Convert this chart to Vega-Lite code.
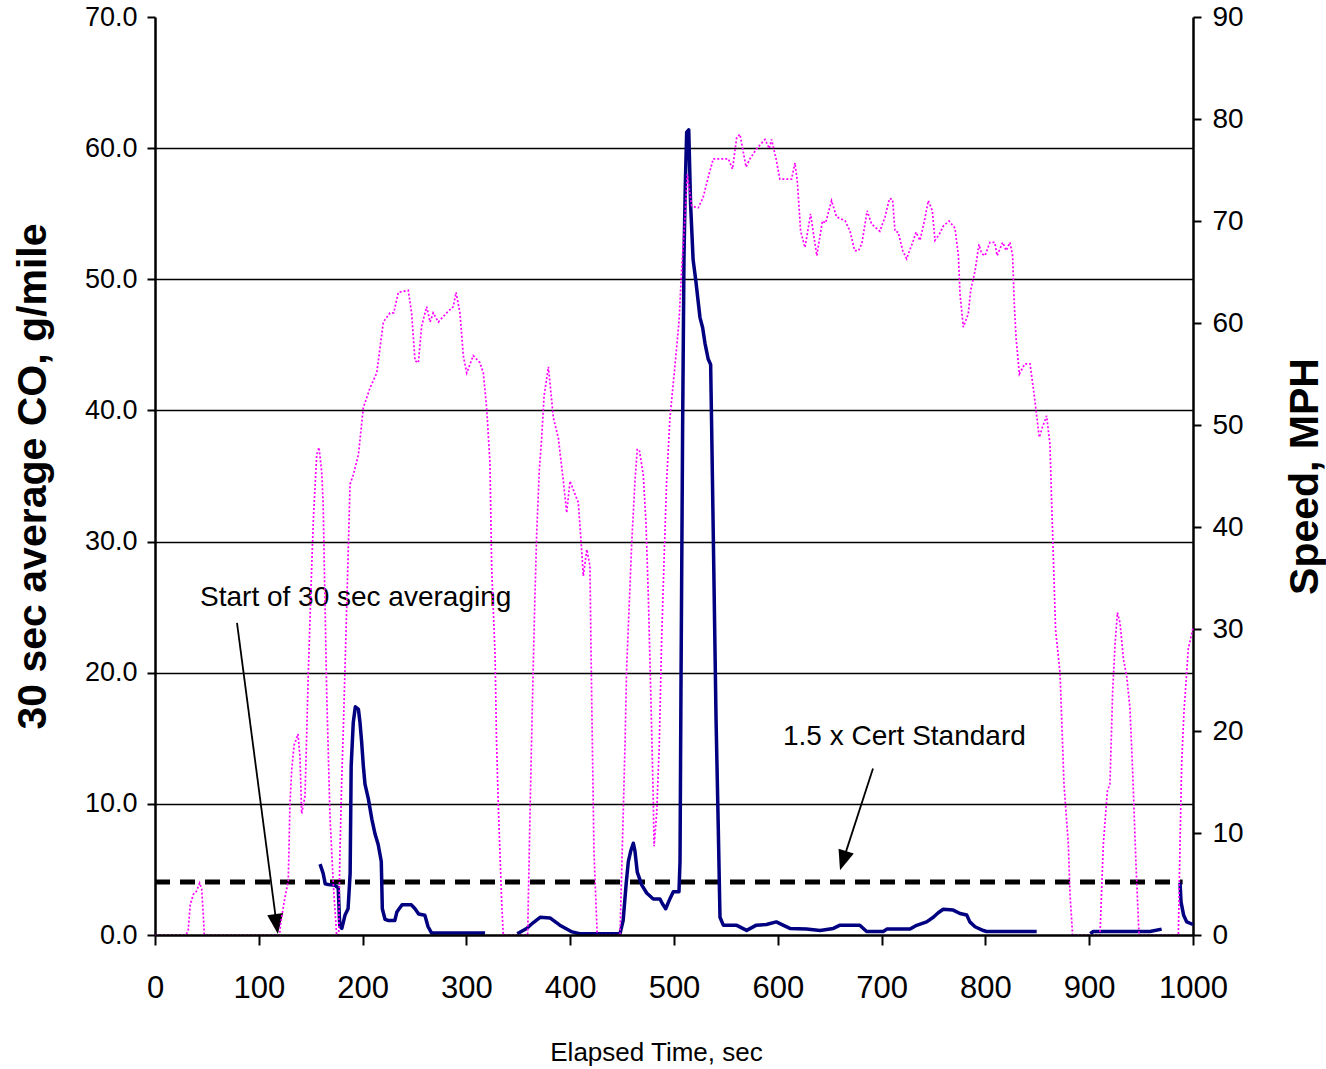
{
  "$schema": "https://vega.github.io/schema/vega-lite/v6.json",
  "width": 1038,
  "height": 918,
  "autosize": {"type": "none"},
  "padding": {"left": 155, "top": 17, "right": 133, "bottom": 134},
  "background": "white",
  "config": {
    "view": {"stroke": null},
    "font": "Liberation Sans",
    "axis": {"labelColor": "black", "titleColor": "black", "domainColor": "black", "tickColor": "black", "labelFont": "Liberation Sans", "titleFont": "Liberation Sans"}
  },
  "datasets": {
    "co": [
      {"seg": 1, "t": 159, "co": 5.4}, {"seg": 1, "t": 162, "co": 4.7}, {"seg": 1, "t": 164, "co": 3.9}, {"seg": 1, "t": 167, "co": 3.85},
      {"seg": 1, "t": 173, "co": 3.8}, {"seg": 1, "t": 176.5, "co": 3.6}, {"seg": 1, "t": 178, "co": 0.7}, {"seg": 1, "t": 180, "co": 0.5},
      {"seg": 1, "t": 183, "co": 1.5}, {"seg": 1, "t": 186, "co": 2.0}, {"seg": 1, "t": 188, "co": 4.7}, {"seg": 1, "t": 189, "co": 12.9},
      {"seg": 1, "t": 191, "co": 16.2}, {"seg": 1, "t": 193, "co": 17.4}, {"seg": 1, "t": 196, "co": 17.2}, {"seg": 1, "t": 197.5, "co": 16.2},
      {"seg": 1, "t": 199, "co": 14.8}, {"seg": 1, "t": 200.7, "co": 12.9}, {"seg": 1, "t": 202.3, "co": 11.5}, {"seg": 1, "t": 205.5, "co": 10.4},
      {"seg": 1, "t": 209, "co": 8.8}, {"seg": 1, "t": 212, "co": 7.7}, {"seg": 1, "t": 215, "co": 6.9}, {"seg": 1, "t": 218, "co": 5.6},
      {"seg": 1, "t": 219, "co": 2.0}, {"seg": 1, "t": 221.6, "co": 1.2}, {"seg": 1, "t": 225, "co": 1.1}, {"seg": 1, "t": 231, "co": 1.1},
      {"seg": 1, "t": 233, "co": 1.75}, {"seg": 1, "t": 238, "co": 2.3}, {"seg": 1, "t": 247, "co": 2.3}, {"seg": 1, "t": 250.5, "co": 2.0},
      {"seg": 1, "t": 254, "co": 1.6}, {"seg": 1, "t": 260, "co": 1.5}, {"seg": 1, "t": 263, "co": 0.65}, {"seg": 1, "t": 266.5, "co": 0.15},
      {"seg": 1, "t": 318, "co": 0.15},
      {"seg": 2, "t": 349, "co": 0.1}, {"seg": 2, "t": 358, "co": 0.5}, {"seg": 2, "t": 364.5, "co": 0.95}, {"seg": 2, "t": 371, "co": 1.35},
      {"seg": 2, "t": 380.5, "co": 1.3}, {"seg": 2, "t": 390, "co": 0.75}, {"seg": 2, "t": 401, "co": 0.26}, {"seg": 2, "t": 409, "co": 0.1},
      {"seg": 2, "t": 448, "co": 0.1}, {"seg": 2, "t": 451, "co": 1.1}, {"seg": 2, "t": 454, "co": 4.0}, {"seg": 2, "t": 456, "co": 5.6},
      {"seg": 2, "t": 458.3, "co": 6.4}, {"seg": 2, "t": 460.8, "co": 7.0}, {"seg": 2, "t": 462.4, "co": 6.4}, {"seg": 2, "t": 464.6, "co": 4.8},
      {"seg": 2, "t": 469, "co": 3.8}, {"seg": 2, "t": 473.7, "co": 3.2}, {"seg": 2, "t": 480, "co": 2.75}, {"seg": 2, "t": 486.5, "co": 2.75},
      {"seg": 2, "t": 488.7, "co": 2.4}, {"seg": 2, "t": 492, "co": 2.0}, {"seg": 2, "t": 496, "co": 2.75}, {"seg": 2, "t": 499.3, "co": 3.3},
      {"seg": 2, "t": 504.8, "co": 3.3}, {"seg": 2, "t": 505.8, "co": 5.6}, {"seg": 2, "t": 506.7, "co": 18.5}, {"seg": 2, "t": 508.3, "co": 38.6},
      {"seg": 2, "t": 509.6, "co": 51.6}, {"seg": 2, "t": 510.9, "co": 57.2}, {"seg": 2, "t": 512.2, "co": 61.2}, {"seg": 2, "t": 514.2, "co": 61.4},
      {"seg": 2, "t": 516, "co": 55.7}, {"seg": 2, "t": 518.4, "co": 51.5}, {"seg": 2, "t": 521, "co": 49.9}, {"seg": 2, "t": 525, "co": 47.1},
      {"seg": 2, "t": 527.6, "co": 46.3}, {"seg": 2, "t": 529.9, "co": 45.1}, {"seg": 2, "t": 533, "co": 43.9}, {"seg": 2, "t": 535.3, "co": 43.5},
      {"seg": 2, "t": 536.3, "co": 38.6}, {"seg": 2, "t": 537.9, "co": 30.2}, {"seg": 2, "t": 540.5, "co": 16.5}, {"seg": 2, "t": 542.7, "co": 8.0},
      {"seg": 2, "t": 544.3, "co": 1.35}, {"seg": 2, "t": 547.5, "co": 0.75}, {"seg": 2, "t": 560, "co": 0.75}, {"seg": 2, "t": 570, "co": 0.35},
      {"seg": 2, "t": 579.4, "co": 0.75}, {"seg": 2, "t": 589, "co": 0.8}, {"seg": 2, "t": 598.6, "co": 1.0}, {"seg": 2, "t": 605, "co": 0.75},
      {"seg": 2, "t": 611.7, "co": 0.5}, {"seg": 2, "t": 627.6, "co": 0.45}, {"seg": 2, "t": 640.7, "co": 0.35}, {"seg": 2, "t": 653.5, "co": 0.5},
      {"seg": 2, "t": 660, "co": 0.75}, {"seg": 2, "t": 679, "co": 0.75}, {"seg": 2, "t": 685.6, "co": 0.27}, {"seg": 2, "t": 701.6, "co": 0.27},
      {"seg": 2, "t": 705, "co": 0.45}, {"seg": 2, "t": 727.4, "co": 0.45}, {"seg": 2, "t": 733.8, "co": 0.74}, {"seg": 2, "t": 743.4, "co": 1.0},
      {"seg": 2, "t": 749.8, "co": 1.35}, {"seg": 2, "t": 754.6, "co": 1.7}, {"seg": 2, "t": 759.4, "co": 1.96}, {"seg": 2, "t": 769, "co": 1.9},
      {"seg": 2, "t": 775.5, "co": 1.64}, {"seg": 2, "t": 782, "co": 1.52}, {"seg": 2, "t": 785, "co": 1.0}, {"seg": 2, "t": 790, "co": 0.63},
      {"seg": 2, "t": 798, "co": 0.34}, {"seg": 2, "t": 801, "co": 0.27}, {"seg": 2, "t": 849.4, "co": 0.27},
      {"seg": 3, "t": 901, "co": 0.1}, {"seg": 3, "t": 904, "co": 0.27}, {"seg": 3, "t": 958.6, "co": 0.27}, {"seg": 3, "t": 969.8, "co": 0.45},
      {"seg": 4, "t": 987.5, "co": 4.0}, {"seg": 4, "t": 988.5, "co": 2.5}, {"seg": 4, "t": 991, "co": 1.5}, {"seg": 4, "t": 994, "co": 1.0},
      {"seg": 4, "t": 1000, "co": 0.8}
    ],
    "speed": [
      {"t": 0, "mph": 0}, {"t": 30, "mph": 0}, {"t": 32, "mph": 0.5}, {"t": 34, "mph": 3}, {"t": 37, "mph": 4}, {"t": 40, "mph": 4.3},
      {"t": 43, "mph": 5.1}, {"t": 45, "mph": 4.5}, {"t": 46.5, "mph": 2}, {"t": 47.5, "mph": 0}, {"t": 120, "mph": 0}, {"t": 121, "mph": 1.1},
      {"t": 125, "mph": 3.6}, {"t": 128.4, "mph": 5.3}, {"t": 130, "mph": 12.8}, {"t": 131.7, "mph": 16.2}, {"t": 134, "mph": 18.6},
      {"t": 137.8, "mph": 19.7}, {"t": 139.7, "mph": 17.4}, {"t": 141.3, "mph": 11.9}, {"t": 144.5, "mph": 13.6}, {"t": 146, "mph": 19.1},
      {"t": 147.7, "mph": 25.8}, {"t": 151, "mph": 36.2}, {"t": 152.6, "mph": 40.8}, {"t": 155.8, "mph": 47.1}, {"t": 158, "mph": 47.8},
      {"t": 160.6, "mph": 45.4}, {"t": 162, "mph": 42.3}, {"t": 165.4, "mph": 23.7}, {"t": 168.6, "mph": 11.6}, {"t": 171.8, "mph": 4.9},
      {"t": 175, "mph": 0}, {"t": 177, "mph": 0}, {"t": 178, "mph": 7.3}, {"t": 179.8, "mph": 14.9}, {"t": 181.5, "mph": 20.4},
      {"t": 185, "mph": 33.3}, {"t": 187.9, "mph": 44.2}, {"t": 191, "mph": 45.1}, {"t": 196, "mph": 47.1}, {"t": 200.7, "mph": 51.7},
      {"t": 207, "mph": 53.6}, {"t": 213.6, "mph": 55.1}, {"t": 220, "mph": 60.1}, {"t": 226.4, "mph": 61.0}, {"t": 230, "mph": 61.0},
      {"t": 234.4, "mph": 63.0}, {"t": 244, "mph": 63.2}, {"t": 247.2, "mph": 61.0}, {"t": 250.5, "mph": 56.3}, {"t": 253.7, "mph": 56.1},
      {"t": 256.9, "mph": 59.7}, {"t": 261.7, "mph": 61.6}, {"t": 265, "mph": 60.1}, {"t": 268, "mph": 61.0}, {"t": 273, "mph": 60.1},
      {"t": 281, "mph": 61.0}, {"t": 287.4, "mph": 61.6}, {"t": 290, "mph": 63.0}, {"t": 293.8, "mph": 61.0}, {"t": 297, "mph": 56.8},
      {"t": 300.3, "mph": 55.1}, {"t": 306.6, "mph": 56.8}, {"t": 313, "mph": 56.1}, {"t": 316.3, "mph": 55.1}, {"t": 319.5, "mph": 51.7},
      {"t": 322.7, "mph": 46.3}, {"t": 324.4, "mph": 35.8}, {"t": 327.6, "mph": 27.5}, {"t": 329, "mph": 19.1}, {"t": 330.7, "mph": 12.8},
      {"t": 334, "mph": 3.2}, {"t": 335.5, "mph": 0}, {"t": 359, "mph": 0}, {"t": 361.3, "mph": 11.9}, {"t": 362.9, "mph": 19.6},
      {"t": 364.5, "mph": 26.8}, {"t": 366, "mph": 33.1}, {"t": 367.7, "mph": 39.3}, {"t": 370.2, "mph": 45.5}, {"t": 372.5, "mph": 48.7},
      {"t": 374.8, "mph": 52.8}, {"t": 379, "mph": 55.7}, {"t": 383.8, "mph": 50.7}, {"t": 388.6, "mph": 48.7}, {"t": 393.4, "mph": 44.5},
      {"t": 396.6, "mph": 41.4}, {"t": 399.8, "mph": 44.5}, {"t": 407.8, "mph": 42.4}, {"t": 411, "mph": 37.8}, {"t": 412.6, "mph": 35.2},
      {"t": 416, "mph": 37.8}, {"t": 419, "mph": 36.2}, {"t": 420.6, "mph": 23.8}, {"t": 422.9, "mph": 8.2}, {"t": 426, "mph": 0},
      {"t": 448, "mph": 0}, {"t": 452.8, "mph": 18.6}, {"t": 454.4, "mph": 26.3}, {"t": 457.6, "mph": 34.2}, {"t": 459.2, "mph": 38.3},
      {"t": 462.4, "mph": 44.5}, {"t": 464.6, "mph": 47.6}, {"t": 466.5, "mph": 47.6}, {"t": 470.4, "mph": 45.1}, {"t": 473, "mph": 40.4},
      {"t": 475.3, "mph": 33.1}, {"t": 477.6, "mph": 23.8}, {"t": 480, "mph": 13.4}, {"t": 480.8, "mph": 8.7}, {"t": 483.3, "mph": 11.9},
      {"t": 485.8, "mph": 18.6}, {"t": 488.1, "mph": 29.0}, {"t": 490.4, "mph": 36.7}, {"t": 492.9, "mph": 44.5}, {"t": 496.1, "mph": 50.7},
      {"t": 501, "mph": 55.9}, {"t": 504.8, "mph": 60.1}, {"t": 507.4, "mph": 65.3}, {"t": 510.6, "mph": 70.4}, {"t": 512.8, "mph": 74.6},
      {"t": 517, "mph": 71.5}, {"t": 521.8, "mph": 71.3}, {"t": 523.4, "mph": 71.3}, {"t": 528, "mph": 72.3}, {"t": 533, "mph": 74.3},
      {"t": 537.8, "mph": 76.1}, {"t": 552.3, "mph": 76.1}, {"t": 556.4, "mph": 75.1}, {"t": 560.4, "mph": 78.2}, {"t": 563.6, "mph": 78.5},
      {"t": 569.4, "mph": 75.3}, {"t": 573.2, "mph": 76.1}, {"t": 579.7, "mph": 77.1}, {"t": 587.7, "mph": 78.0}, {"t": 591.8, "mph": 77.1},
      {"t": 594, "mph": 78.0}, {"t": 598.3, "mph": 76.1}, {"t": 602, "mph": 74.1}, {"t": 613.3, "mph": 74.1}, {"t": 616.5, "mph": 75.7},
      {"t": 618.8, "mph": 73.9}, {"t": 622, "mph": 69.0}, {"t": 626.2, "mph": 67.4}, {"t": 631.6, "mph": 70.7}, {"t": 634, "mph": 69.0},
      {"t": 637.6, "mph": 66.6}, {"t": 643, "mph": 70.0}, {"t": 646, "mph": 69.8}, {"t": 651.8, "mph": 72.0}, {"t": 656.6, "mph": 70.4},
      {"t": 661, "mph": 70.2}, {"t": 665, "mph": 70.0}, {"t": 669.6, "mph": 69.0}, {"t": 674, "mph": 67.1}, {"t": 677.8, "mph": 67.1},
      {"t": 681, "mph": 67.8}, {"t": 686.1, "mph": 71.0}, {"t": 690.4, "mph": 69.7}, {"t": 698.3, "mph": 69.0}, {"t": 703.3, "mph": 70.4},
      {"t": 707.6, "mph": 72.2}, {"t": 710.6, "mph": 72.1}, {"t": 712.9, "mph": 69.0}, {"t": 716, "mph": 68.9}, {"t": 720.3, "mph": 67.1},
      {"t": 724.1, "mph": 66.3}, {"t": 727, "mph": 67.1}, {"t": 730.6, "mph": 68.1}, {"t": 733.2, "mph": 68.9}, {"t": 737, "mph": 68.1},
      {"t": 741.2, "mph": 70.0}, {"t": 745, "mph": 72.0}, {"t": 748.9, "mph": 71.0}, {"t": 751.4, "mph": 68.1}, {"t": 755.6, "mph": 68.7},
      {"t": 759.4, "mph": 69.5}, {"t": 765, "mph": 70.0}, {"t": 770.7, "mph": 69.3}, {"t": 774, "mph": 66.6}, {"t": 775.5, "mph": 62.9},
      {"t": 778.7, "mph": 59.6}, {"t": 783.5, "mph": 60.9}, {"t": 785.8, "mph": 63.2}, {"t": 790, "mph": 65.1}, {"t": 793.8, "mph": 67.7},
      {"t": 796.4, "mph": 66.8}, {"t": 799.6, "mph": 66.6}, {"t": 804.4, "mph": 67.9}, {"t": 809, "mph": 67.9}, {"t": 811.3, "mph": 66.6},
      {"t": 816.6, "mph": 67.9}, {"t": 820, "mph": 67.1}, {"t": 823.7, "mph": 67.9}, {"t": 826.2, "mph": 66.6}, {"t": 827.8, "mph": 61.9},
      {"t": 829.5, "mph": 58.6}, {"t": 832.7, "mph": 55.0}, {"t": 838, "mph": 56.0}, {"t": 843, "mph": 56.0}, {"t": 846.8, "mph": 53.1},
      {"t": 851.9, "mph": 48.8}, {"t": 855, "mph": 49.8}, {"t": 859, "mph": 50.9}, {"t": 862.2, "mph": 48.1}, {"t": 863.8, "mph": 42.5},
      {"t": 867.6, "mph": 29.9}, {"t": 871.9, "mph": 25.7}, {"t": 875.7, "mph": 14.8}, {"t": 879.9, "mph": 8.9}, {"t": 881.5, "mph": 4.0},
      {"t": 884, "mph": 0}, {"t": 910.4, "mph": 0}, {"t": 913.6, "mph": 8.9}, {"t": 917.5, "mph": 14.1}, {"t": 920, "mph": 14.8},
      {"t": 922.6, "mph": 23.9}, {"t": 924.9, "mph": 28.5}, {"t": 927.2, "mph": 31.6}, {"t": 929.7, "mph": 30.6}, {"t": 932.9, "mph": 27.1},
      {"t": 936.2, "mph": 25.3}, {"t": 939.3, "mph": 22.2}, {"t": 941.9, "mph": 15.9}, {"t": 945, "mph": 7.1}, {"t": 948, "mph": 0},
      {"t": 985.9, "mph": 0}, {"t": 987.5, "mph": 8.9}, {"t": 989.1, "mph": 16.9}, {"t": 991.3, "mph": 21.9}, {"t": 993.9, "mph": 25.7},
      {"t": 995.5, "mph": 28.1}, {"t": 998.7, "mph": 29.5}, {"t": 1000, "mph": 30.1}
    ],
    "cert": [{"t": 0, "t1": 990, "co": 4.05}],
    "notes": [
      {"text": "Start of 30 sec averaging", "t": 43.4, "co": 25.7},
      {"text": "1.5 x Cert Standard", "t": 605, "co": 15.1}
    ],
    "arrows": [
      {"note": "start", "t": 79, "co": 23.8, "t2": 117.1, "co2": 0.84},
      {"note": "cert", "t": 691.7, "co": 12.7, "t2": 662.9, "co2": 5.67}
    ],
    "heads": [
      {"note": "start", "t": 117.1, "co": 0.84},
      {"note": "cert", "t": 662.9, "co": 5.67}
    ]
  },
  "layer": [
    {
      "layer": [
        {
          "data": {"name": "cert"},
          "mark": {"type": "rule", "color": "black", "strokeWidth": 5, "strokeDash": [15, 10]},
          "encoding": {
            "x": {
              "field": "t", "type": "quantitative",
              "scale": {"domain": [0, 1000], "nice": false},
              "axis": {
                "values": [0, 100, 200, 300, 400, 500, 600, 700, 800, 900, 1000],
                "format": "d",
                "title": "Elapsed Time, sec",
                "labelFontSize": 31, "labelPadding": 28, "labelFlush": false,
                "tickSize": 10, "tickWidth": 2, "domainWidth": 2.5, "grid": false,
                "zindex": 1,
                "titleFontSize": 26, "titleFontWeight": "normal",
                "titleX": 501, "titleY": 117, "titleBaseline": "middle", "titleAlign": "center"
              }
            },
            "x2": {"field": "t1"},
            "y": {
              "field": "co", "type": "quantitative",
              "scale": {"domain": [0, 70], "nice": false},
              "axis": {
                "values": [0, 10, 20, 30, 40, 50, 60, 70],
                "format": ".1f",
                "title": "30 sec average CO, g/mile",
                "labelFontSize": 27, "labelPadding": 10,
                "tickSize": 8, "tickWidth": 2, "domainWidth": 2.5,
                "grid": true,
                "gridColor": {"condition": {"test": "datum.value == 70 || datum.value == 0", "value": "transparent"}, "value": "black"},
                "gridWidth": 1.6, "gridOpacity": 1,
                "titleFontSize": 41, "titleFontWeight": "bold",
                "titleAngle": -90, "titleX": -122, "titleY": 459, "titleBaseline": "middle", "titleAlign": "center"
              }
            }
          }
        },
        {
          "data": {"name": "co"},
          "mark": {"type": "line", "color": "#000080", "strokeWidth": 3.5, "strokeJoin": "round"},
          "encoding": {
            "x": {"field": "t", "type": "quantitative"},
            "y": {"field": "co", "type": "quantitative"},
            "detail": {"field": "seg", "type": "nominal"}
          }
        },
        {
          "data": {"name": "notes"},
          "mark": {"type": "text", "align": "left", "baseline": "middle", "fontSize": 28, "color": "black", "font": "Liberation Sans"},
          "encoding": {
            "x": {"field": "t", "type": "quantitative"},
            "y": {"field": "co", "type": "quantitative"},
            "text": {"field": "text"}
          }
        },
        {
          "data": {"name": "arrows"},
          "mark": {"type": "rule", "color": "black", "strokeWidth": 1.8},
          "encoding": {
            "x": {"field": "t", "type": "quantitative"},
            "y": {"field": "co", "type": "quantitative"},
            "x2": {"field": "t2"},
            "y2": {"field": "co2"}
          }
        },
        {
          "data": {"name": "heads"},
          "transform": [{"filter": "datum.note == 'start'"}],
          "mark": {"type": "point", "shape": "M-0.8,-1L0.8,-1L0,1Z", "size": 400, "filled": true, "color": "black", "opacity": 1, "angle": -7.85},
          "encoding": {
            "x": {"field": "t", "type": "quantitative"},
            "y": {"field": "co", "type": "quantitative"}
          }
        },
        {
          "data": {"name": "heads"},
          "transform": [{"filter": "datum.note == 'cert'"}],
          "mark": {"type": "point", "shape": "M-0.8,-1L0.8,-1L0,1Z", "size": 400, "filled": true, "color": "black", "opacity": 1, "angle": 17.9},
          "encoding": {
            "x": {"field": "t", "type": "quantitative"},
            "y": {"field": "co", "type": "quantitative"}
          }
        }
      ]
    },
    {
      "data": {"name": "speed"},
      "mark": {"type": "line", "color": "#FF00FF", "strokeWidth": 1.7, "strokeDash": [2, 2]},
      "encoding": {
        "x": {"field": "t", "type": "quantitative"},
        "y": {
          "field": "mph", "type": "quantitative",
          "scale": {"domain": [0, 90], "nice": false},
          "axis": {
            "orient": "right",
            "values": [0, 10, 20, 30, 40, 50, 60, 70, 80, 90],
            "title": "Speed, MPH",
            "labelFontSize": 28, "labelPadding": 11,
            "tickSize": 8, "tickWidth": 2, "domainWidth": 2.5, "grid": false,
            "titleFontSize": 41, "titleFontWeight": "bold",
            "titleAngle": -90, "titleX": 112, "titleY": 459, "titleBaseline": "middle", "titleAlign": "center"
          }
        }
      }
    }
  ],
  "resolve": {"scale": {"y": "independent"}}
}
